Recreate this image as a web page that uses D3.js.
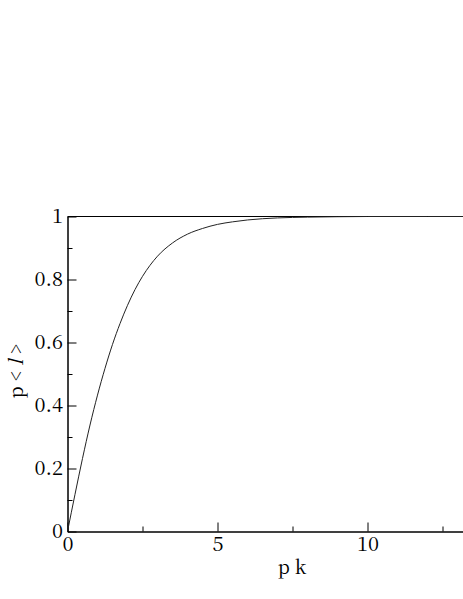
<!DOCTYPE html>
<html>
<head>
<meta charset="utf-8">
<script src="https://cdn.jsdelivr.net/npm/d3@7"></script>
<style>
  body { margin: 0; background: #fff; }
  svg { display: block; }
  svg text { font-family: 'Noto Serif CJK SC', 'Liberation Serif', serif; }
</style>
</head>
<body>
<div id="graph"></div>
<script>
// curve
var pk  = [0, 0.25, 0.5, 0.75, 1, 1.25, 1.5, 1.75, 2, 2.25, 2.5, 2.75, 3, 3.5, 4, 4.5, 5, 5.5, 6, 6.5, 7, 8, 9, 10, 12, 15]
var pl  = [0, 0.118, 0.232, 0.338, 0.433, 0.518, 0.594, 0.66, 0.718, 0.768, 0.81, 0.845, 0.874, 0.916, 0.944, 0.962, 0.975, 0.983, 0.989, 0.993, 0.9955, 0.998, 0.9993, 1, 1, 1]

var yMajor = [0, 0.2, 0.4, 0.6, 0.8, 1]
var yMinor = [0.1, 0.3, 0.5, 0.7, 0.9]
var xMajor = [0, 5, 10]
var xMinor = [2.5, 7.5, 12.5]

var width = 463, height = 599

var svg = d3.select('#graph').append('svg')
  .attr('width', width)
  .attr('height', height)

var x = d3.scaleLinear().domain([0, 15]).range([67.5, 517.5])
var y = d3.scaleLinear().domain([0, 1]).range([531.5, 216.5])

var fmt = d => d === 0 || d === 1 ? String(d) : d3.format('.1f')(d)

// y axis
svg.append('g').attr('transform', 'translate(' + x(0) + ',0)')
  .call(d3.axisLeft(y).tickValues(yMajor).tickFormat(fmt)
    .tickSizeInner(-9).tickSizeOuter(0).tickPadding(4.5))
svg.append('g').attr('transform', 'translate(' + x(0) + ',0)')
  .call(d3.axisLeft(y).tickValues(yMinor).tickFormat('')
    .tickSizeInner(-5).tickSizeOuter(0))

// x axis
svg.append('g').attr('transform', 'translate(0,' + y(0) + ')')
  .call(d3.axisBottom(x).tickValues(xMajor).tickFormat(d3.format('d'))
    .tickSizeInner(-9).tickSizeOuter(0).tickPadding(5.5))
svg.append('g').attr('transform', 'translate(0,' + y(0) + ')')
  .call(d3.axisBottom(x).tickValues(xMinor).tickFormat('')
    .tickSizeInner(-5).tickSizeOuter(0))

svg.selectAll('g').attr('font-family', null).attr('font-size', 20)
svg.selectAll('.tick text').attr('fill', '#000')
svg.selectAll('.domain, .tick line').attr('stroke', '#000').attr('stroke-width', 1)

// top frame
svg.append('line')
  .attr('x1', x(0)).attr('x2', x(15))
  .attr('y1', y(1)).attr('y2', y(1))
  .attr('stroke', '#000').attr('stroke-width', 1.2)

// curve
var line = d3.line()
  .x(d => x(d[0]))
  .y(d => y(d[1]))
  .curve(d3.curveMonotoneX)

svg.append('path')
  .datum(d3.zip(pk, pl))
  .attr('d', line)
  .attr('fill', 'none')
  .attr('stroke', '#222')
  .attr('stroke-width', 1)

// axis titles
svg.append('text')
  .attr('x', 292).attr('y', 574)
  .attr('text-anchor', 'middle')
  .attr('font-size', 19)
  .text('p k')

var yl = svg.append('text')
  .attr('transform', 'translate(23,371) rotate(-90)')
  .attr('text-anchor', 'middle')
  .attr('font-size', 19)
yl.append('tspan').text('p < ')
yl.append('tspan').attr('font-style', 'italic').text('l')
yl.append('tspan').text(' >')
</script>
</body>
</html>
